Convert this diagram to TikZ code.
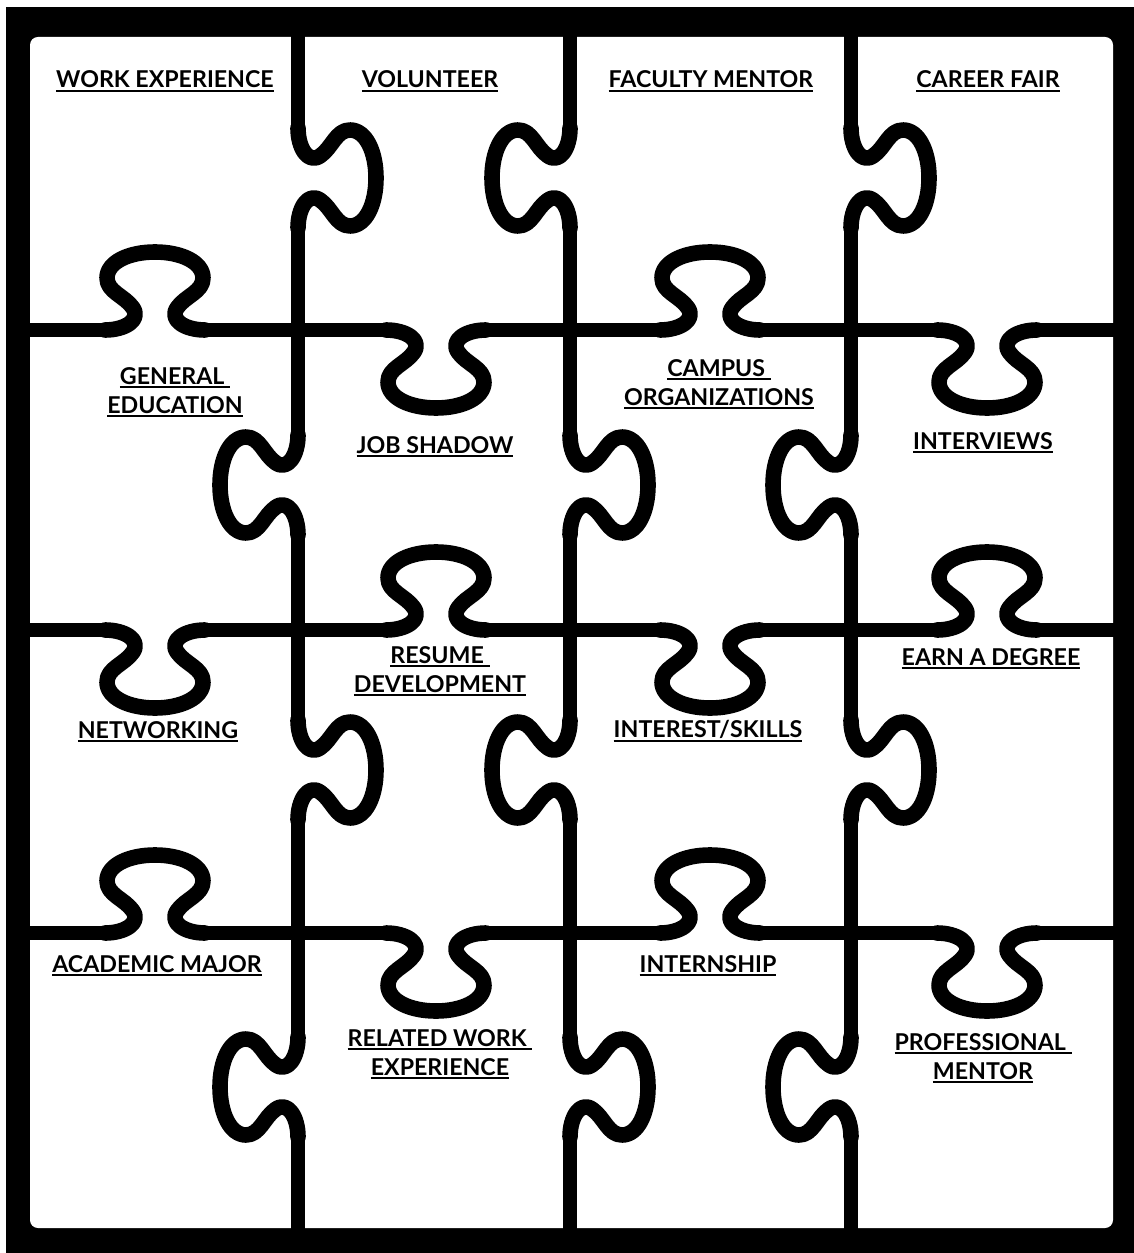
\documentclass[tikz,border=0pt]{standalone}
\usepackage{fontspec}
\setmainfont{Lato}
\usepackage{tikz}
\usetikzlibrary{positioning}

\newcommand{\ulbox}[1]{\vtop{\hbox{#1}\kern1.4pt\hrule height 1.3pt}}

\tikzset{
  cut/.style={line width=3.5mm, line cap=round, line join=round},
  knob/.pic={
    \draw[cut, line width=3.9mm] (-50,0) .. controls (-30,0) and (-14,10) .. (-22,22)
      .. controls (-30,34) and (-48,38) .. (-48,52)
      .. controls (-48,68) and (-26,78) .. (0,78)
      .. controls (26,78) and (48,68) .. (48,52)
      .. controls (48,38) and (30,34) .. (22,22)
      .. controls (14,10) and (30,0) .. (50,0);
  },
  lbl/.style={font=\bfseries\fontsize{16.5}{20.5}\selectfont, align=center, inner sep=0pt, anchor=base}
}

\begin{document}
\begin{tikzpicture}[x=0.25mm, y=-0.25mm]
  \useasboundingbox (0,0) rectangle (1134,1253);
  \fill[black] (6,7) rectangle (1134,1253);
  \fill[white, rounded corners=2mm] (30,37) rectangle (1113,1228);

  % horizontal cuts
  \foreach \y [count=\r] in {330,630,933}
    \foreach \xa/\kx/\xb [count=\c] in {30/155/298, 298/436/570, 570/710/851, 851/987/1113} {
      \pgfmathsetmacro\sgn{1-2*mod(\r+\c+1,2)}
      \draw[cut] (\xa,\y) -- ({\kx-50},\y) ({\kx+50},\y) -- (\xb,\y);
      \pic[yscale=\sgn] at (\kx,\y) {knob};
    }

  % vertical cuts
  \foreach \x [count=\c] in {298,570,851}
    \foreach \ya/\ky/\yb [count=\r] in {37/178/330, 330/485/630, 630/770/933, 933/1087/1228} {
      \pgfmathsetmacro\sgn{1-2*mod(\r+\c+1,2)}
      \draw[cut] (\x,\ya) -- (\x,{\ky-50}) (\x,{\ky+50}) -- (\x,\yb);
      \pic[rotate=-90, yscale=\sgn] at (\x,\ky) {knob};
    }

  % labels (anchor=base is the last line)
  \node[lbl] (workexp) at (165,88) {\ulbox{WORK EXPERIENCE}};
  \node[lbl] (volunteer) at (430,88) {\ulbox{VOLUNTEER}};
  \node[lbl] (facmentor) at (711,88) {\ulbox{FACULTY MENTOR}};
  \node[lbl] (careerfair) at (988,88) {\ulbox{CAREER FAIR}};
  \node[lbl] (genedu) at (175,413) {\ulbox{GENERAL\ }\\\ulbox{EDUCATION}};
  \node[lbl] (jobshadow) at (435,453) {\ulbox{JOB SHADOW}};
  \node[lbl] (campusorg) at (719,405) {\ulbox{CAMPUS\ }\\\ulbox{ORGANIZATIONS}};
  \node[lbl] (interviews) at (983,449) {\ulbox{INTERVIEWS}};
  \node[lbl] (networking) at (158,738) {\ulbox{NETWORKING}};
  \node[lbl] (resume) at (440,692) {\ulbox{RESUME\ }\\\ulbox{DEVELOPMENT}};
  \node[lbl] (interests) at (708,737) {\ulbox{INTEREST/SKILLS}};
  \node[lbl] (degree) at (991,665) {\ulbox{EARN A DEGREE}};
  \node[lbl] (acadmajor) at (157,972) {\ulbox{ACADEMIC MAJOR}};
  \node[lbl] (internship) at (708,972) {\ulbox{INTERNSHIP}};
  \node[lbl] (relwork) at (440,1075) {\ulbox{RELATED WORK\ }\\\ulbox{EXPERIENCE}};
  \node[lbl] (profmentor) at (983,1079) {\ulbox{PROFESSIONAL\ }\\\ulbox{MENTOR}};
\end{tikzpicture}
\end{document}
